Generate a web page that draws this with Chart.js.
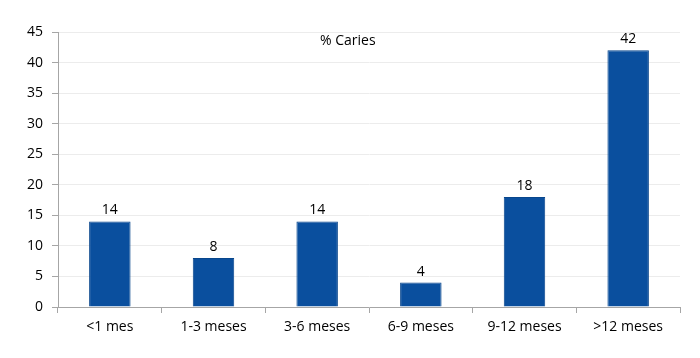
<!DOCTYPE html>
<html>
<head>
<meta charset="utf-8">
<script src="https://cdn.jsdelivr.net/npm/chart.js@4"></script>
<style>
  html, body { margin: 0; padding: 0; background: #fff; }
  #wrap { width: 700px; height: 358px; }
</style>
</head>
<body>
<div id="wrap"><canvas id="chart"></canvas></div>
<script>
const categories = ['<1 mes', '1-3 meses', '3-6 meses', '6-9 meses', '9-12 meses', '>12 meses'];
const caries = [14, 8, 14, 4, 18, 42];
const yTicks = [0, 5, 10, 15, 20, 25, 30, 35, 40, 45];
const chartTitle = '% Caries';

const fontFamily = '"Open Sans", "Noto Sans", sans-serif';
const fontSize = 14;

// values over each bar
const valueLabels = {
  id: 'valueLabels',
  afterDatasetsDraw(chart) {
    const ctx = chart.ctx;
    const meta = chart.getDatasetMeta(0);
    ctx.save();
    ctx.font = fontSize + 'px ' + fontFamily;
    ctx.fillStyle = '#000';
    ctx.textAlign = 'center';
    ctx.textBaseline = 'bottom';
    meta.data.forEach((bar, i) => {
      ctx.fillText(caries[i], bar.x, bar.y - 4);
    });
    ctx.restore();
  }
};

// title sits inside the plot area
const innerTitle = {
  id: 'innerTitle',
  afterDraw(chart) {
    const ctx = chart.ctx;
    const area = chart.chartArea;
    ctx.save();
    ctx.font = fontSize + 'px ' + fontFamily;
    ctx.fillStyle = '#000';
    ctx.textAlign = 'center';
    ctx.textBaseline = 'middle';
    ctx.fillText(chartTitle, area.left + (area.right - area.left) * 0.466, area.top + 9);
    ctx.restore();
  }
};

new Chart(document.getElementById('chart'), {
  type: 'bar',
  data: {
    labels: categories,
    datasets: [{
      data: caries,
      backgroundColor: '#0a4f9e',
      borderColor: '#08468c',
      borderWidth: 1,
      barPercentage: 0.4,
      categoryPercentage: 1
    }]
  },
  options: {
    responsive: true,
    maintainAspectRatio: false,
    animation: false,
    layout: { padding: { top: 32, right: 20, left: 0, bottom: 0 } },
    plugins: {
      legend: { display: false },
      title: { display: false },
      tooltip: { enabled: false }
    },
    scales: {
      x: {
        offset: true,
        grid: {
          offset: true,
          drawOnChartArea: false,
          tickLength: 6,
          color: '#a6a6a6'
        },
        border: { color: '#a6a6a6' },
        ticks: {
          color: '#000',
          padding: 6,
          font: { family: fontFamily, size: fontSize },
          maxRotation: 0
        },
        afterFit(scale) { scale.height = 51; }
      },
      y: {
        min: 0,
        max: 45,
        afterBuildTicks(scale) {
          scale.ticks = yTicks.map(v => ({ value: v }));
        },
        grid: {
          color: '#ececec',
          tickColor: '#a6a6a6',
          tickLength: 6
        },
        border: { color: '#a6a6a6' },
        ticks: {
          color: '#000',
          padding: 9,
          font: { family: fontFamily, size: fontSize }
        },
        afterFit(scale) { scale.width = 58; }
      }
    }
  },
  plugins: [valueLabels, innerTitle]
});
</script>
</body>
</html>
